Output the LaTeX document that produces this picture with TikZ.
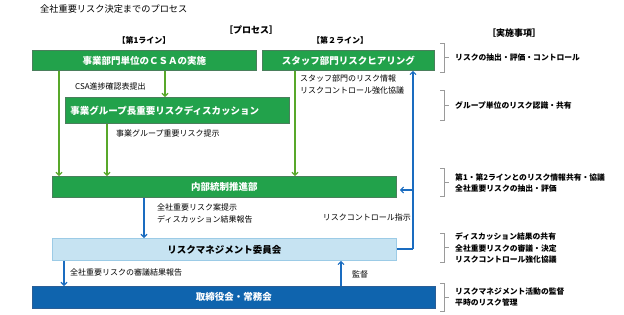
\documentclass[tikz,border=0pt]{standalone}
\usepackage{fontspec}
\setmainfont{Noto Sans CJK JP}
\usetikzlibrary{arrows.meta,calc}
\definecolor{gfill}{HTML}{22A24B}
\definecolor{gline}{HTML}{4A7F5C}
\definecolor{lbfill}{HTML}{C6E3F2}
\definecolor{lbline}{HTML}{9CCBE6}
\definecolor{dbfill}{HTML}{0F64AE}
\definecolor{dbline}{HTML}{2A5E96}
\definecolor{garr}{HTML}{58A82A}
\definecolor{barr}{HTML}{1A6CC0}
\definecolor{brk}{HTML}{9A9A9A}
\begin{document}
\begin{tikzpicture}[x=1pt,y=-1pt,
  boxbase/.style={rectangle,inner sep=0pt,anchor=north west,font=\fontsize{9.5}{11}\selectfont\bfseries,line width=0.8pt},
  gbox/.style={boxbase,fill=gfill,draw=gline,text=white},
  lbbox/.style={boxbase,fill=lbfill,draw=lbline,text=black},
  dbbox/.style={boxbase,fill=dbfill,draw=dbline,text=white},
  garrow/.style={draw=garr,line width=1.1pt,-{Straight Barb[length=3pt,width=6pt]}},
  barrow/.style={draw=barr,line width=1.1pt,-{Straight Barb[length=3pt,width=6pt]}},
  bline/.style={draw=barr,line width=1.1pt},
  lbl/.style={font=\fontsize{8}{12}\selectfont,inner sep=0pt,align=left},
  hdr/.style={font=\fontsize{9}{11}\selectfont\bfseries,inner sep=0pt},
  rtxt/.style={font=\fontsize{7.8}{11.5}\selectfont\bfseries,inner sep=0pt,align=left,anchor=west},
  bracketline/.style={draw=brk,line width=0.6pt}
]
\useasboundingbox (0,0) rectangle (624,314);

% titles
\node[lbl,anchor=west,font=\fontsize{9.2}{11}\selectfont] (title) at (40,9) {全社重要リスク決定までのプロセス};
\node[hdr] (hproc) at (251,30) {［プロセス］};
\node[hdr,font=\fontsize{8}{10}\selectfont\bfseries] (hl1) at (144,40) {【第1ライン】};
\node[hdr,font=\fontsize{8}{10}\selectfont\bfseries] (hl2) at (340,40) {【第２ライン】};
\node[hdr] (hjis) at (514,33) {［実施事項］};

% boxes
\node[gbox,minimum width=224,minimum height=20] (b1) at (32,50) {事業部門単位のＣＳＡの実施};
\node[gbox,minimum width=172,minimum height=20] (b2) at (262,50) {スタッフ部門リスクヒアリング};
\node[gbox,text width=214,inner xsep=5pt,align=left,minimum height=26] (b3) at (65,97) {事業グループ長重要リスクディスカッション};
\node[gbox,minimum width=344,minimum height=21] (b4) at (52,176) {内部統制推進部};
\node[lbbox,minimum width=344,minimum height=22] (b5) at (52,238) {リスクマネジメント委員会};
\node[dbbox,minimum width=403,minimum height=22] (b6) at (32,286) {取締役会・常務会};

% green arrows
\draw[garrow] (b1.south -| 59,0) -- (b4.north -| 59,0);
\draw[garrow] (b1.south -| 165,0) -- (b3.north -| 165,0);
\draw[garrow] (b3.south -| 107,0) -- (b4.north -| 107,0);
\draw[garrow] (b2.south -| 295,0) -- (b4.north -| 295,0);

% green labels
\node[lbl,anchor=west] (l1) at (75,86) {CSA進捗確認表提出};
\node[lbl,anchor=north west] (l2) at (300,75) {スタッフ部門のリスク情報\\リスクコントロール強化協議};
\node[lbl,anchor=west] (l3) at (116,133) {事業グループ重要リスク提示};

% blue connectors
\coordinate (cr) at (413,249);
\coordinate (cb) at (413,190);
\draw[bline] (b5.east |- cr) -- (cr);
\draw[barrow] (cr) -- (cr |- b2.south);
\draw[barrow] (cb) -- ($(b4.east |- cb)+(3,0)$);
\draw[barrow] (b4.south -| 144,0) -- (b5.north -| 144,0);
\draw[barrow] (b5.south -| 64,0) -- (b6.north -| 64,0);
\draw[barrow] (b6.north -| 341,0) -- (b5.south -| 341,0);

% blue labels
\node[lbl,anchor=north west] (l4) at (157,204) {全社重要リスク案提示\\ディスカッション結果報告};
\node[lbl,anchor=east] (l5) at (411,217) {リスクコントロール指示};
\node[lbl,anchor=west] (l6) at (70,272) {全社重要リスクの審議結果報告};
\node[lbl,anchor=west] (l7) at (352,274) {監督};

% right brackets
\foreach \t/\b in {43/72, 90/120, 168/196, 233/262, 283/311}{
  \draw[bracketline] (440,\t) -- (444,\t) -- (444,\b) -- (440,\b);
  \draw[bracketline] (444,{(\t+\b)/2}) -- (449,{(\t+\b)/2});
}
\node[rtxt] (r1) at (455,58) {リスクの抽出・評価・コントロール};
\node[rtxt] (r2) at (455,105) {グループ単位のリスク認識・共有};
\node[rtxt] (r3) at (455,183) {第1・第2ラインとのリスク情報共有・協議\\全社重要リスクの抽出・評価};
\node[rtxt] (r4) at (455,248) {ディスカッション結果の共有\\全社重要リスクの審議・決定\\リスクコントロール強化協議};
\node[rtxt] (r5) at (455,297) {リスクマネジメント活動の監督\\平時のリスク管理};
\end{tikzpicture}
\end{document}
